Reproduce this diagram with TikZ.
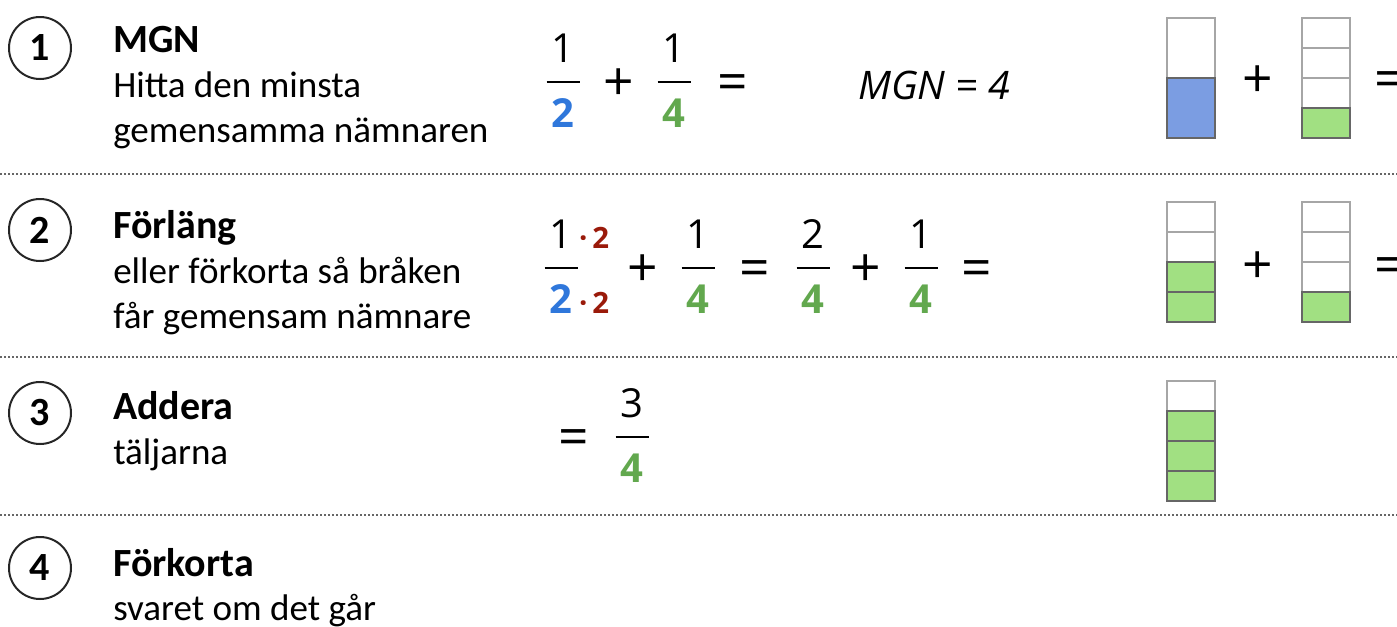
\documentclass[tikz,border=0pt]{standalone}
\usepackage{fontspec}
\setmainfont{Carlito}
\newfontfamily\mathf{Open Sans}
\definecolor{fblue}{HTML}{2F77DB}
\definecolor{fgreen}{HTML}{62A84E}
\definecolor{fred}{HTML}{9A1A0A}
\definecolor{boxblue}{HTML}{7B9DE2}
\definecolor{boxgreen}{HTML}{A1E082}
\tikzset{
 numc/.style={circle,draw=black!85,line width=1.5pt,minimum size=46.5pt,inner sep=0pt,font=\fontsize{30}{36}\selectfont\bfseries},
 ttl/.style={anchor=base west,inner sep=0pt,font=\fontsize{30}{36}\selectfont\bfseries},
 txt/.style={anchor=base west,inner sep=0pt,font=\fontsize{27.8}{33}\selectfont},
 dig/.style={inner sep=0pt,font=\mathf\fontsize{30}{36}\selectfont},
 bdig/.style={inner sep=0pt,font=\mathf\fontsize{30}{36}\selectfont\bfseries},
 rdig/.style={inner sep=0pt,anchor=base west,text=fred,font=\mathf\fontsize{22}{26}\selectfont\bfseries},
 op/.style={inner sep=0pt,anchor=base,font=\mathf\fontsize{40}{48}\selectfont},
 sep/.style={draw=black!60,line width=1.5pt,dash pattern=on 1.5pt off 1.5pt},
 fbar/.style={line width=2.2pt},
 cell/.style={draw=black!35,line width=0.9pt,fill=white},
 bcell/.style={draw=black!60,line width=1.1pt,fill=boxblue},
 gcell/.style={draw=black!60,line width=1.1pt,fill=boxgreen},
}
% #1 name, #2 x, #3 bar y, #4 numerator, #5 denominator
\newcommand\fracnode[5]{%
  \node[dig] (#1n) at (#2,#3-34) {#4};
  \node[bdig] (#1d) at (#2,#3+31) {#5};
  \draw[fbar] (#2-16.5,#3) -- (#2+16.5,#3);
}
\begin{document}
\begin{tikzpicture}[x=0.75pt,y=-0.75pt]
\useasboundingbox (0,0) rectangle (1397,626);
\clip (0,0) rectangle (1397,626);
% separators
\draw[sep] (0,174) -- (1397,174);
\draw[sep] (0,357) -- (1397,357);
\draw[sep] (0,515) -- (1397,515);
% step circles
\node[numc] (c1) at (40,48) {1};
\node[numc] (c2) at (40,230) {2};
\node[numc] (c3) at (40,413) {3};
\node[numc] (c4) at (40,568) {4};
% step texts
\node[ttl] (t1) at (113,52) {MGN};
\node[txt] (t1b) at (113,97) {Hitta den minsta};
\node[txt] (t1c) at (113,142) {gemensamma nämnaren};
\node[ttl] (t2) at (113,238) {Förläng};
\node[txt] (t2b) at (113,283) {eller förkorta så bråken};
\node[txt] (t2c) at (113,328) {får gemensam nämnare};
\node[ttl] (t3) at (113,419) {Addera};
\node[txt] (t3b) at (113,464) {täljarna};
\node[ttl] (t4) at (113,576) {Förkorta};
\node[txt] (t4b) at (113,620) {svaret om det går};
% row 1 fractions
\fracnode{a}{563}{82}{1}{\textcolor{fblue}{2}}
\node[op] (ap) at (619,100) {+};
\fracnode{b}{674}{82}{1}{\textcolor{fgreen}{4}}
\node[op] (ae) at (733,100) {=};
\node[inner sep=0pt,anchor=base west,font=\mathf\fontsize{29.5}{35}\selectfont\itshape] (mgn) at (858,99) {MGN = 4};
% row 2 fractions
\fracnode{c}{561}{268}{1}{\textcolor{fblue}{2}}
\node[rdig] (cnr) at ([xshift=1pt]cn.base east) {\,·\,2};
\node[rdig] (cdr) at ([xshift=1pt]cd.base east) {\,·\,2};
\node[op] (cp) at (643,286) {+};
\fracnode{e}{698}{268}{1}{\textcolor{fgreen}{4}}
\node[op] (ce) at (755,286) {=};
\fracnode{f}{813}{268}{2}{\textcolor{fgreen}{4}}
\node[op] (cp2) at (866,286) {+};
\fracnode{g}{921}{268}{1}{\textcolor{fgreen}{4}}
\node[op] (ce2) at (977,286) {=};
% row 3
\node[op] (de) at (574,455) {=};
\fracnode{h}{632}{437}{3}{\textcolor{fgreen}{4}}
% bar models row 1
\draw[cell] (1167,18) rectangle (1215,78);
\draw[bcell] (1167,78) rectangle (1215,138);
\draw[cell] (1302,18) rectangle (1350,48);
\draw[cell] (1302,48) rectangle (1350,78);
\draw[cell] (1302,78) rectangle (1350,108);
\draw[gcell] (1302,108) rectangle (1350,138);
\node[op] (bp1) at (1258,97) {+};
\node[op] (be1) at (1390,97) {=};
% bar models row 2
\draw[cell] (1167,202) rectangle (1215,232);
\draw[cell] (1167,232) rectangle (1215,262);
\draw[gcell] (1167,262) rectangle (1215,292);
\draw[gcell] (1167,292) rectangle (1215,322);
\draw[cell] (1302,202) rectangle (1350,232);
\draw[cell] (1302,232) rectangle (1350,262);
\draw[cell] (1302,262) rectangle (1350,292);
\draw[gcell] (1302,292) rectangle (1350,322);
\node[op] (bp2) at (1258,283) {+};
\node[op] (be2) at (1390,283) {=};
% bar model row 3
\draw[cell] (1167,381) rectangle (1215,411);
\draw[gcell] (1167,411) rectangle (1215,441);
\draw[gcell] (1167,441) rectangle (1215,471);
\draw[gcell] (1167,471) rectangle (1215,501);
\end{tikzpicture}
\end{document}
